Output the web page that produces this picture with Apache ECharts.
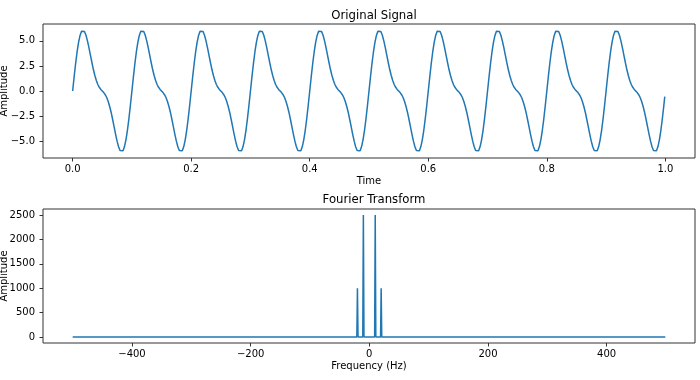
<!DOCTYPE html>
<html><head><meta charset="utf-8">
<script src="https://cdn.jsdelivr.net/npm/echarts@6/dist/echarts.min.js"></script>
<style>html,body{margin:0;padding:0;background:#fff}#c{width:700px;height:380px}</style>
</head><body><div id="c"></div>
<script>
const sampleStep = 0.0025;
const signalValues = [
0,1.40,2.72,3.89,4.84,5.54,5.95,6.07,5.93,5.56,5.00,4.32,3.58,2.84,2.14,1.54,1.04,0.65,0.37,0.16,0,-0.16,-0.37,-0.65,-1.04,-1.54,-2.14,-2.84,-3.58,-4.32,-5.00,-5.56,-5.93,-6.07,-5.95,-5.54,-4.84,-3.89,-2.72,-1.40,
0,1.40,2.72,3.89,4.84,5.54,5.95,6.07,5.93,5.56,5.00,4.32,3.58,2.84,2.14,1.54,1.04,0.65,0.37,0.16,0,-0.16,-0.37,-0.65,-1.04,-1.54,-2.14,-2.84,-3.58,-4.32,-5.00,-5.56,-5.93,-6.07,-5.95,-5.54,-4.84,-3.89,-2.72,-1.40,
0,1.40,2.72,3.89,4.84,5.54,5.95,6.07,5.93,5.56,5.00,4.32,3.58,2.84,2.14,1.54,1.04,0.65,0.37,0.16,0,-0.16,-0.37,-0.65,-1.04,-1.54,-2.14,-2.84,-3.58,-4.32,-5.00,-5.56,-5.93,-6.07,-5.95,-5.54,-4.84,-3.89,-2.72,-1.40,
0,1.40,2.72,3.89,4.84,5.54,5.95,6.07,5.93,5.56,5.00,4.32,3.58,2.84,2.14,1.54,1.04,0.65,0.37,0.16,0,-0.16,-0.37,-0.65,-1.04,-1.54,-2.14,-2.84,-3.58,-4.32,-5.00,-5.56,-5.93,-6.07,-5.95,-5.54,-4.84,-3.89,-2.72,-1.40,
0,1.40,2.72,3.89,4.84,5.54,5.95,6.07,5.93,5.56,5.00,4.32,3.58,2.84,2.14,1.54,1.04,0.65,0.37,0.16,0,-0.16,-0.37,-0.65,-1.04,-1.54,-2.14,-2.84,-3.58,-4.32,-5.00,-5.56,-5.93,-6.07,-5.95,-5.54,-4.84,-3.89,-2.72,-1.40,
0,1.40,2.72,3.89,4.84,5.54,5.95,6.07,5.93,5.56,5.00,4.32,3.58,2.84,2.14,1.54,1.04,0.65,0.37,0.16,0,-0.16,-0.37,-0.65,-1.04,-1.54,-2.14,-2.84,-3.58,-4.32,-5.00,-5.56,-5.93,-6.07,-5.95,-5.54,-4.84,-3.89,-2.72,-1.40,
0,1.40,2.72,3.89,4.84,5.54,5.95,6.07,5.93,5.56,5.00,4.32,3.58,2.84,2.14,1.54,1.04,0.65,0.37,0.16,0,-0.16,-0.37,-0.65,-1.04,-1.54,-2.14,-2.84,-3.58,-4.32,-5.00,-5.56,-5.93,-6.07,-5.95,-5.54,-4.84,-3.89,-2.72,-1.40,
0,1.40,2.72,3.89,4.84,5.54,5.95,6.07,5.93,5.56,5.00,4.32,3.58,2.84,2.14,1.54,1.04,0.65,0.37,0.16,0,-0.16,-0.37,-0.65,-1.04,-1.54,-2.14,-2.84,-3.58,-4.32,-5.00,-5.56,-5.93,-6.07,-5.95,-5.54,-4.84,-3.89,-2.72,-1.40,
0,1.40,2.72,3.89,4.84,5.54,5.95,6.07,5.93,5.56,5.00,4.32,3.58,2.84,2.14,1.54,1.04,0.65,0.37,0.16,0,-0.16,-0.37,-0.65,-1.04,-1.54,-2.14,-2.84,-3.58,-4.32,-5.00,-5.56,-5.93,-6.07,-5.95,-5.54,-4.84,-3.89,-2.72,-1.40,
0,1.40,2.72,3.89,4.84,5.54,5.95,6.07,5.93,5.56,5.00,4.32,3.58,2.84,2.14,1.54,1.04,0.65,0.37,0.16,0,-0.16,-0.37,-0.65,-1.04,-1.54,-2.14,-2.84,-3.58,-4.32,-5.00,-5.56,-5.93,-6.07,-5.95,-5.54,-4.84,-3.89,-2.72,-1.40
];
const signalEndTime = 0.999;
const signalEndValue = -0.56;

// Fourier transform magnitude (frequency in Hz)
const fftFreq = [-500,-21,-20,-19,-11,-10,-9,9,10,11,19,20,21,499];
const fftAmp  = [0,0,1000,0,0,2500,0,0,2500,0,0,1000,0,0];

// Tick labels
const timeTicks = [0,0.2,0.4,0.6,0.8,1.0];
const signalTicks = [-5,-2.5,0,2.5,5];
const freqTicks = [-400,-200,0,200,400];
const ampTicks = [0,500,1000,1500,2000,2500];

const signalData = signalValues.map((v,i)=>[i*sampleStep, v]);
signalData.push([signalEndTime, signalEndValue]);
const fftData = fftFreq.map((f,i)=>[f, fftAmp[i]]);

const FONT = 'DejaVu Sans';
const AX = '#333';
const minus = s => s.replace('-', '\u2212');

function xAxisCfg(grid, min, max, ticks, name, fmt){
  return {
    type:'value', gridIndex:grid, min:min, max:max, name:name, position:'bottom',
    nameLocation:'middle', nameGap:18, nameMoveOverlap:false,
    nameTextStyle:{fontFamily:FONT, fontSize:10, color:'#000'},
    axisLine:{show:false, onZero:false},
    axisTick:{show:true, length:3.5, lineStyle:{color:AX, width:1}, customValues:ticks},
    axisLabel:{fontFamily:FONT, fontSize:10, color:'#000', margin:6, customValues:ticks, formatter:fmt},
    splitLine:{show:false}
  };
}
function yAxisCfg(grid, min, max, ticks, fmt){
  return {
    type:'value', gridIndex:grid, min:min, max:max, name:'Amplitude', position:'left',
    nameLocation:'middle', nameGap:34, nameRotate:90, nameMoveOverlap:false,
    nameTextStyle:{fontFamily:FONT, fontSize:10, color:'#000'},
    axisLine:{show:false, onZero:false},
    axisTick:{show:true, length:3.5, lineStyle:{color:AX, width:1}, customValues:ticks},
    axisLabel:{fontFamily:FONT, fontSize:10, color:'#000', margin:8, customValues:ticks, formatter:fmt},
    splitLine:{show:false}
  };
}

const chart = echarts.init(document.getElementById('c'), null, {renderer:'canvas'});
chart.setOption({
  animation:false,
  backgroundColor:'#fff',
  title:[
    {text:'Original Signal', left:369, top:5, textAlign:'center',
     textStyle:{fontFamily:FONT, fontSize:11.7, fontWeight:'normal', color:'#000'}},
    {text:'Fourier Transform', left:369, top:189, textAlign:'center',
     textStyle:{fontFamily:FONT, fontSize:11.7, fontWeight:'normal', color:'#000'}}
  ],
  grid:[
    {left:43, top:24, width:652, height:134, show:true, borderColor:AX, borderWidth:1, backgroundColor:'#fff',
     containLabel:false, outerBoundsMode:'none'},
    {left:43, top:209, width:652, height:134, show:true, borderColor:AX, borderWidth:1, backgroundColor:'#fff',
     containLabel:false, outerBoundsMode:'none'}
  ],
  xAxis:[
    xAxisCfg(0, -0.05, 1.05, timeTicks, 'Time', v => minus(v.toFixed(1))),
    xAxisCfg(1, -550, 549, freqTicks, 'Frequency (Hz)', v => minus(String(v)))
  ],
  yAxis:[
    yAxisCfg(0, -6.68, 6.68, signalTicks, v => minus(v.toFixed(1))),
    yAxisCfg(1, -125, 2625, ampTicks, v => minus(String(v)))
  ],
  series:[
    {type:'line', xAxisIndex:0, yAxisIndex:0, data:signalData, showSymbol:false,
     lineStyle:{color:'#1f77b4', width:1.5}, clip:true},
    {type:'line', xAxisIndex:1, yAxisIndex:1, data:fftData, showSymbol:false,
     lineStyle:{color:'#1f77b4', width:1.5}, clip:true}
  ]
});
</script>
</body></html>
